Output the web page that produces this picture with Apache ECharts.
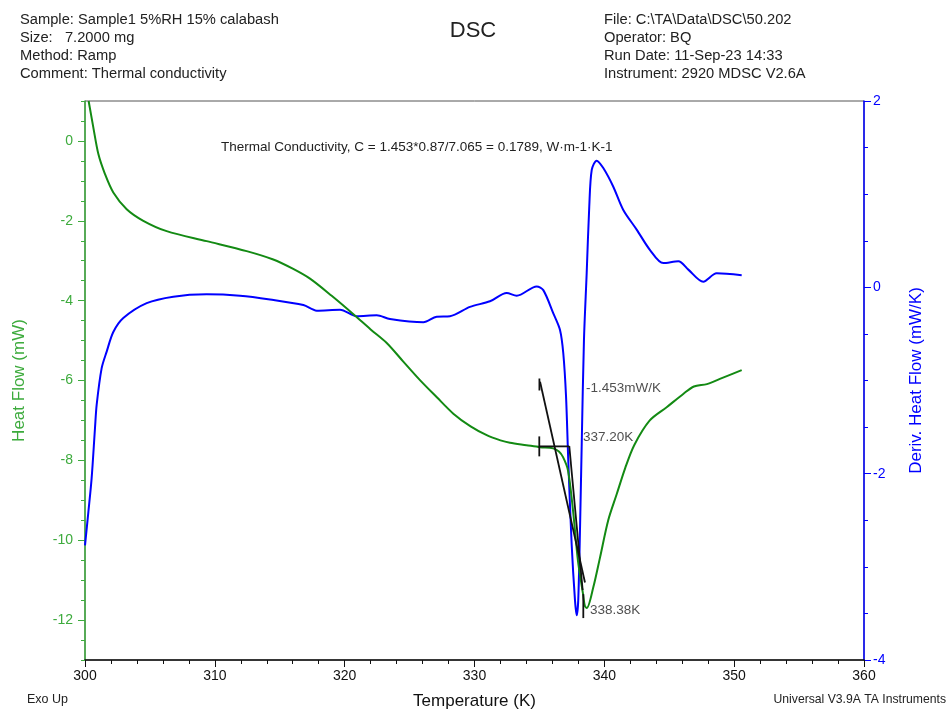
<!DOCTYPE html>
<html><head><meta charset="utf-8">
<script src="https://cdn.jsdelivr.net/npm/echarts@6/dist/echarts.min.js"></script>
<style>html,body{margin:0;padding:0;background:#fff}#c{width:949px;height:709px}</style>
</head><body><div id="c"></div>
<script>
// Heat flow (green, left axis)
const hfT = [300.28,300.64,301.03,301.54,302.18,303.21,304.49,306.29,309.37,312.45,314.5,316.0,317.33,319.0,320.67,322.0,323.24,324.5,325.8,327.1,328.37,329.7,330.94,332.0,332.73,334.0,335.05,336.05,336.5,336.82,337.2,337.59,337.97,338.36,338.5,338.65,339.15,339.67,340.3,340.95,341.6,342.3,343.5,344.8,346.1,346.9,347.9,348.9,350.58];
const hfV = [1.0,0.34,-0.33,-0.83,-1.29,-1.71,-2.0,-2.26,-2.51,-2.76,-2.97,-3.2,-3.45,-3.88,-4.34,-4.72,-5.06,-5.52,-5.99,-6.42,-6.83,-7.15,-7.37,-7.5,-7.56,-7.62,-7.67,-7.70,-7.78,-7.92,-8.25,-9.26,-10.52,-11.35,-11.65,-11.7,-11.18,-10.43,-9.5,-8.85,-8.2,-7.62,-7.0,-6.67,-6.33,-6.15,-6.09,-5.96,-5.74];
// Derivative heat flow (blue, right axis)
const dT = [300.0,300.26,300.51,300.77,300.9,301.28,301.67,302.18,302.95,304.75,306.8,309.37,311.94,314.25,316.82,317.85,319.64,320.93,322.47,323.49,326.06,327.09,328.11,329.65,331.19,332.48,333.25,334.79,335.3,336.07,336.59,336.84,337.05,337.22,337.48,337.74,337.87,337.99,338.13,338.26,338.43,338.64,338.84,339.03,339.41,339.92,340.69,341.46,342.49,343.52,344.54,345.7,346.47,347.62,348.65,350.58];
const dV = [-2.77,-2.41,-2.05,-1.51,-1.26,-0.87,-0.69,-0.48,-0.33,-0.17,-0.10,-0.075,-0.09,-0.13,-0.19,-0.25,-0.24,-0.31,-0.30,-0.34,-0.375,-0.315,-0.31,-0.21,-0.15,-0.06,-0.09,0.01,-0.03,-0.28,-0.46,-0.71,-1.17,-1.85,-2.75,-3.36,-3.52,-3.36,-2.57,-1.67,-0.57,0.15,0.87,1.26,1.36,1.28,1.08,0.83,0.62,0.40,0.26,0.28,0.19,0.06,0.15,0.13];
// Analysis construction lines (heat-flow axis)
const tangentLine = [[335.05,-6.03],[338.51,-11.06]];
const tangentCap = [[335.0,-5.95],[335.0,-6.25]];
const steepLine = [[337.3,-7.64],[338.33,-11.25]];
const baseLine = [[334.99,-7.65],[337.3,-7.65]];
const baseCap = [[334.99,-7.4],[334.99,-7.9]];
const peakTick = [[338.38,-11.35],[338.38,-11.95]];
const annoLabels = [[338.59,-6.19,'-1.453mW/K'],[338.36,-7.41,'337.20K'],[338.9,-11.75,'338.38K']];
const hfTicks = [-12,-10,-8,-6,-4,-2,0];

const FONT = 'Liberation Sans, Arial, sans-serif';
const GREEN_AX = '#3dab3d', GREEN = '#138a13', BLUE = '#0000ff';
const zip = (a,b) => a.map((v,i)=>[v,b[i]]);
const lineS = (d) => ({type:'line', yAxisIndex:0, data:d, symbol:'none', silent:true, lineStyle:{color:'#111', width:1.8}, z:5, animation:false});

const chart = echarts.init(document.getElementById('c'));
chart.setOption({
  animation:false,
  textStyle:{fontFamily:FONT},
  grid:{left:85, right:85, top:101, bottom:49, show:true, borderColor:'#555', borderWidth:1, containLabel:false, outerBoundsMode:'none'},
  xAxis:{type:'value', min:300, max:360, interval:10,
    name:'Temperature (K)', nameLocation:'middle', nameGap:33,
    nameTextStyle:{color:'#111', fontSize:17, fontFamily:FONT},
    axisLine:{onZero:false, lineStyle:{color:'#111', width:1.5}},
    axisTick:{length:7, lineStyle:{color:'#111'}},
    minorTick:{show:true, splitNumber:5, length:4, lineStyle:{color:'#111'}},
    axisLabel:{color:'#111', fontSize:14, margin:9, fontFamily:FONT},
    splitLine:{show:false}},
  yAxis:[
    {type:'value', position:'left', min:-13, max:1,
     name:'Heat Flow (mW)', nameLocation:'middle', nameGap:57, nameRotate:90,
     nameTextStyle:{color:GREEN_AX, fontSize:17, fontFamily:FONT},
     axisLine:{show:true, onZero:false, lineStyle:{color:GREEN_AX, width:1.5}},
     axisTick:{show:true, length:7, customValues:hfTicks, lineStyle:{color:GREEN_AX}},
     axisLabel:{color:GREEN_AX, fontSize:14, margin:12, customValues:hfTicks, fontFamily:FONT},
     splitLine:{show:false}},
    {type:'value', position:'right', min:-4, max:2, interval:2,
     name:'Deriv. Heat Flow (mW/K)', nameLocation:'middle', nameGap:44, nameRotate:90,
     nameTextStyle:{color:BLUE, fontSize:17, fontFamily:FONT},
     axisLine:{show:true, onZero:false, lineStyle:{color:BLUE, width:1.5}},
     axisTick:{length:7, lineStyle:{color:BLUE}},
     minorTick:{show:true, splitNumber:4, length:4, lineStyle:{color:BLUE}},
     axisLabel:{color:BLUE, fontSize:14, margin:9, fontFamily:FONT},
     splitLine:{show:false}},
    {type:'value', position:'left', min:-13, max:1, interval:0.5,
     axisLine:{show:false, onZero:false}, axisTick:{show:true, length:4, lineStyle:{color:GREEN_AX}},
     axisLabel:{show:false}, splitLine:{show:false}}
  ],
  series:[
    {type:'line', yAxisIndex:1, data:zip(dT,dV), symbol:'none', smooth:0.3, lineStyle:{color:BLUE, width:2}, z:3},
    {type:'line', yAxisIndex:0, data:zip(hfT,hfV), symbol:'none', smooth:0.3, lineStyle:{color:GREEN, width:2}, z:4},
    lineS(tangentLine), lineS(tangentCap), lineS(steepLine), lineS(baseLine), lineS(baseCap), lineS(peakTick),
    {type:'scatter', yAxisIndex:0, symbolSize:0, silent:true, z:6,
     data:annoLabels.map(a=>({value:[a[0],a[1]], name:a[2]})),
     label:{show:true, position:'right', distance:0, formatter:p=>p.name, color:'#222', fontSize:13.5, fontFamily:FONT}}
  ],
  graphic:[
    {type:'text', left:20, top:11, style:{text:'Sample: Sample1 5%RH 15% calabash\nSize:   7.2000 mg\nMethod: Ramp\nComment: Thermal conductivity', font:'14.7px '+FONT, fill:'#222', lineHeight:18}},
    {type:'text', left:604, top:11, style:{text:'File: C:\\TA\\Data\\DSC\\50.202\nOperator: BQ\nRun Date: 11-Sep-23 14:33\nInstrument: 2920 MDSC V2.6A', font:'14.7px '+FONT, fill:'#222', lineHeight:18}},
    {type:'text', x:473, y:31, style:{text:'DSC', font:'22px '+FONT, fill:'#222', align:'center', verticalAlign:'middle'}},
    {type:'text', x:221, y:147, style:{text:'Thermal Conductivity, C = 1.453*0.87/7.065 = 0.1789, W\u00b7m-1\u00b7K-1', font:'13.5px '+FONT, fill:'#222', verticalAlign:'middle'}},
    {type:'text', x:27, y:700, style:{text:'Exo Up', font:'12.5px '+FONT, fill:'#222', verticalAlign:'middle'}},
    {type:'text', x:946, y:700, style:{text:'Universal V3.9A TA Instruments', font:'12.2px '+FONT, fill:'#222', align:'right', verticalAlign:'middle'}}
  ]
});
</script></body></html>
